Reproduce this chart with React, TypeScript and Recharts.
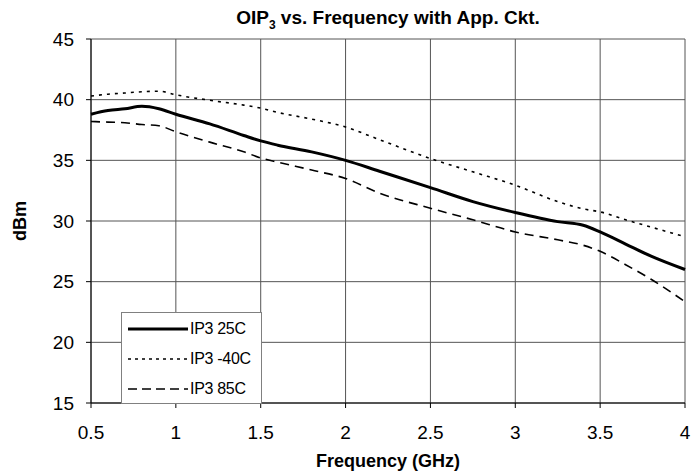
import React from 'react';
import { LineChart, Line, XAxis, YAxis, CartesianGrid, Label } from 'recharts';

const FREQ = [0.5, 0.6, 0.7, 0.8, 0.9, 1.0, 1.2, 1.4, 1.5, 1.6, 1.8, 2.0, 2.2, 2.5, 2.75, 3.0, 3.25, 3.4, 3.5, 3.65, 3.8, 4.0];
const IP3_25C = [38.8, 39.1, 39.25, 39.45, 39.25, 38.8, 38.0, 37.05, 36.6, 36.25, 35.7, 35.0, 34.1, 32.75, 31.6, 30.7, 29.95, 29.65, 29.1, 28.1, 27.1, 26.0];
const IP3_M40C = [40.3, 40.45, 40.55, 40.65, 40.7, 40.4, 39.95, 39.55, 39.3, 38.95, 38.4, 37.75, 36.7, 35.15, 34.05, 32.95, 31.6, 31.0, 30.75, 30.1, 29.5, 28.7];
const IP3_85C = [38.2, 38.15, 38.1, 37.95, 37.85, 37.35, 36.5, 35.7, 35.2, 34.85, 34.2, 33.5, 32.3, 31.05, 30.1, 29.1, 28.45, 28.0, 27.5, 26.4, 25.2, 23.35];

const X_TICKS = [0.5, 1, 1.5, 2, 2.5, 3, 3.5, 4];
const Y_TICKS = [15, 20, 25, 30, 35, 40, 45];

const SERIES = [
  { key: 'ip25', name: 'IP3 25C', values: IP3_25C, width: 3, dash: undefined, legendDash: undefined },
  { key: 'ipm40', name: 'IP3 -40C', values: IP3_M40C, width: 1.6, dash: '3 5', legendDash: '3 4' },
  { key: 'ip85', name: 'IP3 85C', values: IP3_85C, width: 1.6, dash: '9 6', legendDash: '9 5' },
];

const data = FREQ.map((f, i) => {
  const row: Record<string, number> = { f };
  SERIES.forEach((s) => { row[s.key] = s.values[i]; });
  return row;
});

const FONT = '"Liberation Sans", Arial, sans-serif';

// legend sits inside the plot, bottom-left, drawn over the grid
const LegendBox = () => (
  <div style={{ position: 'absolute', left: 121, top: 312, width: 139, height: 90, border: '1px solid #808080', background: '#fff', fontFamily: FONT, fontSize: 16 }}>
    {SERIES.map((s, i) => (
      <div key={s.key} style={{ position: 'absolute', left: 0, top: 6 + i * 30, height: 20, display: 'flex', alignItems: 'center', letterSpacing: -0.3 }}>
        <svg width={66} height={10} style={{ marginLeft: 5 }}>
          <line x1={1} y1={5} x2={61} y2={5} stroke="#000" strokeWidth={s.width} strokeDasharray={s.legendDash} />
        </svg>
        <span style={{ marginLeft: -3 }}>{s.name}</span>
      </div>
    ))}
  </div>
);

export default function App() {
  return (
    <div style={{ position: 'absolute', left: 0, top: 0, width: 691, height: 472, background: '#fff', fontFamily: FONT }}>
      <div style={{ position: 'absolute', left: 91, width: 594, top: 7, textAlign: 'center', fontWeight: 'bold', fontSize: 19 }}>
        OIP<sub style={{ fontSize: 12 }}>3</sub> vs. Frequency with App. Ckt.
      </div>
      <LineChart width={691} height={472} data={data} margin={{ top: 39, right: 6, bottom: 0, left: 0 }}>
        <CartesianGrid stroke="#555" strokeWidth={1} />
        <XAxis
          dataKey="f"
          type="number"
          domain={[0.5, 4]}
          ticks={X_TICKS}
          tickSize={5}
          tickMargin={18}
          axisLine={{ stroke: '#000' }}
          tickLine={{ stroke: '#000' }}
          tick={{ fill: '#000', fontSize: 19, fontFamily: FONT }}
          height={69}
        >
          <Label
            content={() => (
              <text x={388} y={467} textAnchor="middle" fontWeight="bold" fontSize={18} fontFamily={FONT} fill="#000">
                Frequency (GHz)
              </text>
            )}
          />
        </XAxis>
        <YAxis
          type="number"
          domain={[15, 45]}
          ticks={Y_TICKS}
          width={91}
          tickSize={5}
          tickMargin={12}
          axisLine={{ stroke: '#000' }}
          tickLine={{ stroke: '#000' }}
          tick={{ fill: '#000', fontSize: 19, fontFamily: FONT }}
        >
          <Label
            content={() => (
              <text x={20} y={221} textAnchor="middle" dominantBaseline="central" fontWeight="bold" fontSize={18} fontFamily={FONT} fill="#000" transform="rotate(-90 20 221)">
                dBm
              </text>
            )}
          />
        </YAxis>
        {SERIES.map((s) => (
          <Line
            key={s.key}
            dataKey={s.key}
            name={s.name}
            type="monotone"
            stroke="#000"
            strokeWidth={s.width}
            strokeDasharray={s.dash}
            dot={false}
            activeDot={false}
            isAnimationActive={false}
          />
        ))}
      </LineChart>
      <LegendBox />
    </div>
  );
}
